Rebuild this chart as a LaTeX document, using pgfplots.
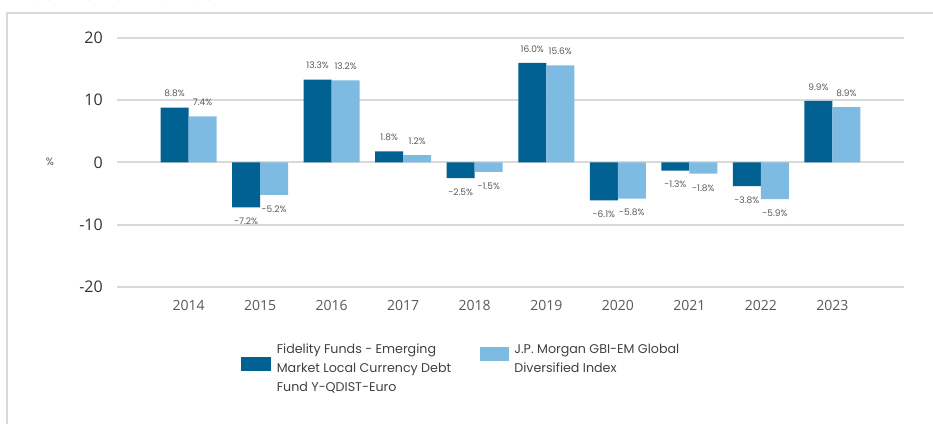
\documentclass[border=0pt]{standalone}
\usepackage{fontspec}
\setmainfont{Poppins}
\newfontfamily\tickfont{Open Sans}
\usepackage{pgfplots}
\pgfplotsset{compat=1.18}
\definecolor{darkblue}{HTML}{006192}
\definecolor{lightblue}{HTML}{7DBBE2}
\definecolor{gridgray}{HTML}{D9D9D9}
\definecolor{labelgray}{HTML}{595959}
\definecolor{titleblue}{HTML}{9DC3E6}
\begin{document}
\begin{tikzpicture}[x=0.75pt,y=0.75pt]
\useasboundingbox (0,0) rectangle (933,424);
\clip (0,0) rectangle (933,424);
\node[anchor=base west, inner sep=0pt, text=titleblue, font=\fontsize{17}{20}\selectfont] at (14,423) {Past Performance};
\draw[gridgray, line width=1.5pt] (7,0) -- (7,411) -- (933,411);
\node[text=labelgray, font=\fontsize{8}{9}\selectfont, inner sep=0pt] at (50,262) {\%};
\begin{axis}[
  at={(87.75pt,102.75pt)}, anchor=south west,
  scale only axis, width=590.25pt, height=186.75pt,
  xmin=-1, xmax=10, ymin=-20, ymax=20,
  ybar=0pt, bar width=21pt,
  axis line style={draw=none},
  major tick length=0pt,
  ytick={-20,-10,0,10,20},
  xtick={0,...,9},
  xticklabels={2014,2015,2016,2017,2018,2019,2020,2021,2022,2023},
  ymajorgrids, grid style={gridgray, line width=1.5pt},
  /pgf/number format/assume math mode=true,
  yticklabel style={font=\fontsize{12}{14}\tickfont, text=black!80, anchor=east, inner sep=0pt, xshift=-10.5pt},
  xticklabel style={font=\fontsize{10.5}{12}\tickfont, text=labelgray, anchor=north, inner sep=0pt, yshift=-10pt},
  nodes near coords={\pgfmathprintnumber[fixed,precision=1,fixed zerofill,assume math mode=true]{\pgfplotspointmeta}\%},
  every node near coord/.append style={font=\fontsize{6.8}{8}\selectfont, text=labelgray, inner sep=0pt, outer sep=8pt},
  legend columns=2,
  legend style={draw=none, fill=none, inner sep=0pt, at={(0.1576,-0.2137)}, anchor=north west,
    nodes={inner sep=0pt, font=\fontsize{9.5}{14.25}\selectfont, text=black!75},
    /tikz/every odd column/.append style={column sep=4.5pt},
    /tikz/every even column/.append style={column sep=5.25pt}},
]
\addplot[fill=darkblue, draw=none, bar shift=-10.5pt, forget plot] coordinates {(0,8.8) (1,-7.2) (2,13.3) (3,1.8) (4,-2.5) (5,16.0) (6,-6.1) (7,-1.3) (8,-3.8) (9,9.9)};
\addplot[fill=lightblue, draw=none, bar shift=10.5pt, forget plot] coordinates {(0,7.4) (1,-5.2) (2,13.2) (3,1.2) (4,-1.5) (5,15.6) (6,-5.8) (7,-1.8) (8,-5.9) (9,8.9)};
\addlegendimage{legend image code/.code={\fill[darkblue] (0pt,-16.875pt) rectangle (21.75pt,-7.125pt);}}
\addlegendentry{\begin{tabular}[t]{@{}p{147pt}@{}}Fidelity Funds - Emerging\\Market Local Currency Debt\\Fund Y-QDIST-Euro\end{tabular}}
\addlegendimage{legend image code/.code={\fill[lightblue] (0pt,-9.375pt) rectangle (21pt,0.375pt);}}
\addlegendentry{\begin{tabular}[t]{@{}l@{}}J.P. Morgan GBI-EM Global\\Diversified Index\end{tabular}}
\end{axis}
\end{tikzpicture}
\end{document}
